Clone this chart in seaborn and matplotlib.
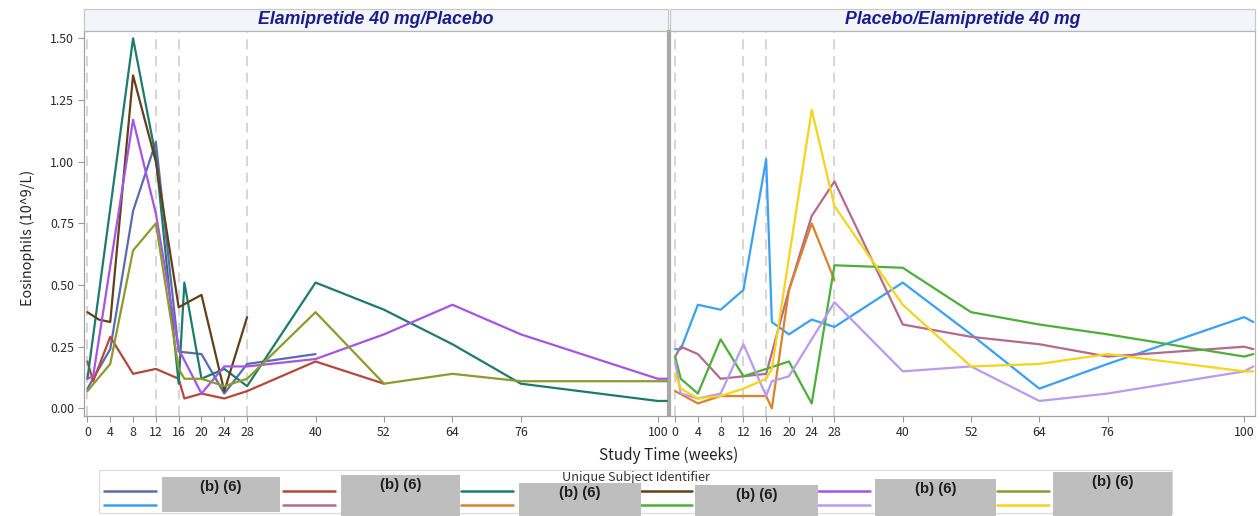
import matplotlib
matplotlib.use("Agg")
import matplotlib.pyplot as plt
import pandas as pd
import seaborn as sns
from matplotlib.lines import Line2D
from matplotlib.patches import Rectangle

# ---------------------------------------------------------------- data
ARMS = ["Elamipretide 40 mg/Placebo", "Placebo/Elamipretide 40 mg"]
X_TICKS = [0, 4, 8, 12, 16, 20, 24, 28, 40, 52, 64, 76, 100]
Y_TICKS = [0.00, 0.25, 0.50, 0.75, 1.00, 1.25, 1.50]
REF_WEEKS = [0, 12, 16, 28]
REDACTED = "(b) (6)"

# Elamipretide 40 mg/Placebo
s01_wk = [0, 4, 8, 12, 16, 20, 24, 28, 40]
s01_eo = [0.08, 0.24, 0.80, 1.08, 0.23, 0.22, 0.06, 0.18, 0.22]
s02_wk = [0, 1, 4, 8, 12, 16, 17, 20, 24, 28, 40, 52]
s02_eo = [0.19, 0.11, 0.29, 0.14, 0.16, 0.12, 0.04, 0.06, 0.04, 0.07, 0.19, 0.10]
s03_wk = [0, 8, 12, 16, 17, 20, 24, 28, 40, 52, 64, 76, 100, 101.6]
s03_eo = [0.12, 1.50, 1.02, 0.10, 0.51, 0.12, 0.16, 0.09, 0.51, 0.40, 0.26, 0.10, 0.03, 0.03]
s04_wk = [0, 2, 4, 8, 12, 16, 20, 24, 28]
s04_eo = [0.39, 0.36, 0.35, 1.35, 1.00, 0.41, 0.46, 0.07, 0.37]
s05_wk = [0, 1, 8, 12, 16, 20, 24, 28, 40, 52, 64, 76, 100, 101.6]
s05_eo = [0.12, 0.13, 1.17, 0.79, 0.24, 0.06, 0.17, 0.17, 0.20, 0.30, 0.42, 0.30, 0.12, 0.12]
s06_wk = [0, 4, 8, 12, 16, 17, 20, 24, 28, 40, 52, 64, 76, 100, 101.6]
s06_eo = [0.07, 0.18, 0.64, 0.75, 0.16, 0.12, 0.12, 0.09, 0.12, 0.39, 0.10, 0.14, 0.11, 0.11, 0.11]

# Placebo/Elamipretide 40 mg
s07_wk = [0, 1, 4, 8, 12, 16, 17, 20, 24, 28, 40, 52, 64, 76, 100, 101.6]
s07_eo = [0.24, 0.24, 0.42, 0.40, 0.48, 1.01, 0.35, 0.30, 0.36, 0.33, 0.51, 0.30, 0.08, 0.18, 0.37, 0.35]
s08_wk = [0, 1, 4, 8, 12, 16, 20, 24, 28, 40, 52, 64, 76, 100, 101.6]
s08_eo = [0.21, 0.25, 0.22, 0.12, 0.13, 0.14, 0.48, 0.78, 0.92, 0.34, 0.29, 0.26, 0.21, 0.25, 0.24]
s09_wk = [0, 4, 8, 12, 16, 17, 20, 24, 28]
s09_eo = [0.07, 0.02, 0.05, 0.05, 0.05, 0.00, 0.48, 0.75, 0.52]
s10_wk = [0, 1, 4, 8, 12, 16, 20, 24, 28, 40, 52, 64, 76, 100, 101.6]
s10_eo = [0.21, 0.12, 0.06, 0.28, 0.13, 0.16, 0.19, 0.02, 0.58, 0.57, 0.39, 0.34, 0.30, 0.21, 0.22]
s11_wk = [0, 1, 4, 8, 12, 16, 17, 20, 28, 40, 52, 64, 76, 100, 101.6]
s11_eo = [0.19, 0.06, 0.04, 0.06, 0.26, 0.05, 0.11, 0.13, 0.43, 0.15, 0.17, 0.03, 0.06, 0.15, 0.17]
s12_wk = [0, 1, 4, 8, 12, 16, 17, 24, 28, 40, 52, 64, 76, 100, 101.6]
s12_eo = [0.14, 0.08, 0.04, 0.05, 0.08, 0.12, 0.16, 1.21, 0.82, 0.42, 0.17, 0.18, 0.22, 0.15, 0.15]

SUBJECTS = {
    "S01": (ARMS[0], s01_wk, s01_eo), "S02": (ARMS[0], s02_wk, s02_eo),
    "S03": (ARMS[0], s03_wk, s03_eo), "S04": (ARMS[0], s04_wk, s04_eo),
    "S05": (ARMS[0], s05_wk, s05_eo), "S06": (ARMS[0], s06_wk, s06_eo),
    "S07": (ARMS[1], s07_wk, s07_eo), "S08": (ARMS[1], s08_wk, s08_eo),
    "S09": (ARMS[1], s09_wk, s09_eo), "S10": (ARMS[1], s10_wk, s10_eo),
    "S11": (ARMS[1], s11_wk, s11_eo), "S12": (ARMS[1], s12_wk, s12_eo),
}

COLORS = {
    "S01": "#5b6cae", "S02": "#b5473d", "S03": "#1e7a6d", "S04": "#634019",
    "S05": "#a555e2", "S06": "#8c9a2e", "S07": "#3aa0f5", "S08": "#b46a8c",
    "S09": "#d9822b", "S10": "#4caf3a", "S11": "#b99af0", "S12": "#f7d31c",
}

rows = []
for sid, (arm, wk, eo) in SUBJECTS.items():
    for w, v in zip(wk, eo):
        rows.append({"subject": sid, "arm": arm, "week": w, "eos": v})
df = pd.DataFrame(rows)

# ---------------------------------------------------------------- figure
sns.set_theme(style="white")
plt.rcParams["font.family"] = ["Noto Sans CJK JP", "DejaVu Sans"]

W, H = 1260, 516
fig = plt.figure(figsize=(W / 100, H / 100), dpi=100)
fig.patch.set_facecolor("white")


def fbox(x0, y0, x1, y1):
    return [x0 / W, 1 - y1 / H, (x1 - x0) / W, (y1 - y0) / H]


axL = fig.add_axes(fbox(84, 31, 668, 416))
axR = fig.add_axes(fbox(670, 31, 1255, 416))
panels = [(axL, ARMS[0], (-0.6, 101.8)), (axR, ARMS[1], (-0.9, 101.9))]

for ax, arm, xlim in panels:
    for w in REF_WEEKS:
        ax.axvline(w, color="#cfcfcf", lw=1.2, ls=(0, (6, 4)), zorder=1)
    sub = df[df["arm"] == arm]
    sns.lineplot(data=sub, x="week", y="eos", hue="subject", palette=COLORS,
                 estimator=None, legend=False, linewidth=1.6, ax=ax, zorder=3)
    ax.set_xlim(*xlim)
    ax.set_ylim(-0.031, 1.53)
    ax.set_xticks(X_TICKS)
    ax.set_xticklabels([str(t) for t in X_TICKS])
    ax.set_xlabel("")
    ax.set_ylabel("")
    ax.tick_params(axis="x", length=4, width=0.8, color="#9a9a9a", pad=3,
                   labelsize=8.9, labelcolor="#2b2b2b", bottom=True)
    for s in ax.spines.values():
        s.set_color("#b8b8b8")
        s.set_linewidth(0.9)
    ax.spines["bottom"].set_color("#a0a0a0")

    # panel header strip
    x0, x1 = ax.get_position().x0, ax.get_position().x1
    fig.add_artist(Rectangle((x0, 1 - 31 / H), x1 - x0, 22 / H,
                             transform=fig.transFigure, facecolor="#f3f5fb",
                             edgecolor="#c9c9c9", lw=0.9, zorder=0))
    fig.text((x0 + x1) / 2, 1 - 20 / H, arm, ha="center", va="center",
             fontsize=12.8, fontweight="bold", fontstyle="italic",
             family=["Liberation Sans", "DejaVu Sans"], color="#1c1c8f")

axL.set_yticks(Y_TICKS)
axL.set_yticklabels([f"{t:.2f}" for t in Y_TICKS])
axL.tick_params(axis="y", left=True, length=4, width=0.8, color="#9a9a9a",
                pad=3, labelsize=8.9, labelcolor="#2b2b2b")
axL.spines["left"].set_color("#a0a0a0")
axL.spines["right"].set_color("#a8a8a8")
axL.spines["right"].set_linewidth(1.6)
axR.set_yticks(Y_TICKS)
axR.tick_params(axis="y", left=False, labelleft=False)
axR.spines["left"].set_color("#a8a8a8")
axR.spines["left"].set_linewidth(1.6)

fig.text(28 / W, 1 - 238 / H, "Eosinophils (10^9/L)", rotation=90,
         ha="center", va="center", fontsize=10.3, color="#222222")
fig.text(669 / W, 1 - 455 / H, "Study Time (weeks)", ha="center",
         va="center", fontsize=11, color="#222222")

# ---------------------------------------------------------------- legend
fig.add_artist(Rectangle((99 / W, 1 - 513 / H), (1172 - 99) / W, 43 / H,
                         transform=fig.transFigure, facecolor="white",
                         edgecolor="#dcdcdc", lw=0.9, zorder=1))
fig.text(636 / W, 1 - 478 / H, "Unique Subject Identifier", ha="center",
         va="center", fontsize=9.2, color="#333333", zorder=2)

order = list(SUBJECTS.keys())
swatch_x = [104, 283, 461, 640, 818, 997]
boxes = [(162, 477, 280, 512), (341, 475, 460, 520), (519, 483, 641, 520),
         (695, 485, 818, 520), (875, 479, 996, 520), (1053, 472, 1172, 520)]
for col in range(6):
    for row, yy in enumerate([491, 505]):
        sid = order[col + 6 * row]
        fig.add_artist(Line2D([swatch_x[col] / W, (swatch_x[col] + 52) / W],
                              [1 - yy / H, 1 - yy / H],
                              transform=fig.transFigure, color=COLORS[sid],
                              lw=1.8, zorder=2))
    bx0, by0, bx1, by1 = boxes[col]
    fig.add_artist(Rectangle((bx0 / W, 1 - by1 / H), (bx1 - bx0) / W,
                             (by1 - by0) / H, transform=fig.transFigure,
                             facecolor="#bebebe", edgecolor="none", zorder=3))
    fig.text((bx0 + bx1) / 2 / W, 1 - (by0 + 10) / H, REDACTED, ha="center",
             va="center", fontsize=10.8, fontweight="bold", color="#1e1e1e",
             family=["Liberation Sans", "DejaVu Sans"], zorder=4)

fig.savefig("out.png", dpi=100)
